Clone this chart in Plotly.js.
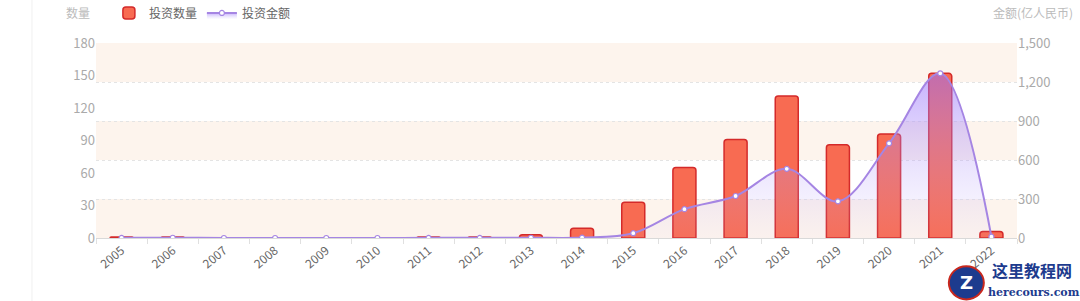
<!DOCTYPE html>
<html>
<head>
<meta charset="utf-8">
<script src="https://cdn.plot.ly/plotly-3.0.1.min.js"></script>
<style>html,body{margin:0;padding:0;background:#fff;}#chart{width:1080px;height:301px;}</style>
</head>
<body>
<div id="chart"></div>
<script>
const years = ['2005','2006','2007','2008','2009','2010','2011','2012','2013','2014','2015','2016','2017','2018','2019','2020','2021','2022'];
const investCount = [1, 1, 0, 0, 0, 0, 1, 1, 3, 9, 33, 65, 91, 131, 86, 96, 152, 6];
const investAmount = [1, 2, 0, 0, 0, 0, 1, 1, 2, 3, 37, 222, 323, 532, 282, 728, 1267, 10];
const leftTicks = [0, 30, 60, 90, 120, 150, 180];
const rightTicks = [0, 300, 600, 900, 1200, 1500];
const shadedBands = [[0, 300], [600, 900], [1200, 1500]];

const FONT = '"Noto Sans CJK SC", "Noto Sans", sans-serif';

const traces = [
  {
    type: 'bar', name: '投资数量', x: years, y: investCount, yaxis: 'y',
    width: 0.45,
    marker: {color: '#f86b52', line: {color: '#d42a2a', width: 1.5}, cornerradius: 3},
    hoverinfo: 'x+y'
  },
  {
    type: 'scatter', mode: 'lines+markers', name: '投资金额', x: years, y: investAmount, yaxis: 'y2',
    line: {color: '#a585e3', width: 2, shape: 'spline', smoothing: 1},
    marker: {symbol: 'circle', size: 5, color: '#ffffff', line: {color: '#a585e3', width: 1.2}},
    fill: 'tozeroy',
    fillgradient: {type: 'vertical', colorscale: [[0, 'rgba(200,185,250,0.05)'], [1, 'rgba(150,110,250,0.55)']]}
  }
];

const shapes = shadedBands.map(b => ({
  type: 'rect', xref: 'paper', yref: 'y2', x0: 0, x1: 1, y0: b[0], y1: b[1],
  fillcolor: '#fdf4ed', line: {width: 0}, layer: 'below'
}));
shapes.push({type: 'line', xref: 'paper', yref: 'paper', x0: -0.0695, x1: -0.0695, y0: -0.33, y1: 1.23, line: {color: '#f0f0f0', width: 1}});
shapes.push({type: 'circle', xref: 'paper', yref: 'paper', x0: 0.926, x1: 0.964, y0: -0.315, y1: -0.145, fillcolor: '#1d3b8e', line: {color: '#c8281e', width: 2}});

const layout = {
  width: 1080, height: 301,
  margin: {l: 96, r: 63, t: 43, b: 63, autoexpand: false},
  paper_bgcolor: '#ffffff', plot_bgcolor: 'rgba(0,0,0,0)',
  font: {family: FONT, size: 12, color: '#666'},
  showlegend: true,
  legend: {orientation: 'h', x: 0.014, xanchor: 'left', y: 1.154, yanchor: 'middle',
           font: {size: 12, color: '#666'}, bgcolor: 'rgba(0,0,0,0)', itemclick: false},
  bargap: 0.55,
  xaxis: {
    type: 'category', tickangle: -40, tickfont: {size: 12, color: '#666'},
    showline: true, linecolor: '#d9d9d9', linewidth: 1,
    ticks: 'outside', tickson: 'boundaries', ticklen: 5, tickcolor: '#e0e0e0',
    showgrid: false, zeroline: false, fixedrange: true
  },
  yaxis: {
    range: [0, 180], tickvals: leftTicks, showgrid: false, zeroline: false,
    tickfont: {size: 13, color: '#aaa'}, ticks: '', showline: false, fixedrange: true
  },
  yaxis2: {
    range: [0, 1500], tickvals: rightTicks, tickformat: ',d', overlaying: 'y', side: 'right',
    showgrid: true, gridcolor: '#e4e4e4', griddash: 'dot', gridwidth: 1, zeroline: false,
    tickfont: {size: 13, color: '#aaa'}, showline: false, fixedrange: true
  },
  shapes: shapes,
  annotations: [
    {text: '数量', xref: 'paper', yref: 'paper', x: -0.0195, y: 1.154, xanchor: 'center', yanchor: 'middle', showarrow: false, font: {size: 12, color: '#bbb'}},
    {text: '金额(亿人民币)', xref: 'paper', yref: 'paper', x: 1.0174, y: 1.154, xanchor: 'center', yanchor: 'middle', showarrow: false, font: {size: 12, color: '#bbb'}},
    {text: '<b>这里教程网</b>', xref: 'paper', yref: 'paper', x: 1.016, y: -0.164, xanchor: 'center', yanchor: 'middle', showarrow: false, font: {size: 16, color: '#1d3b8e', family: '"Noto Sans CJK SC", sans-serif'}},
    {text: '<b>herecours.com</b>', xref: 'paper', yref: 'paper', x: 1.018, y: -0.277, xanchor: 'center', yanchor: 'middle', showarrow: false, font: {size: 11, color: '#1d3b8e', family: '"DejaVu Serif", serif'}},
    {text: '<b>Z</b>', xref: 'paper', yref: 'paper', x: 0.945, y: -0.23, xanchor: 'center', yanchor: 'middle', showarrow: false, font: {size: 18, color: '#ffffff', family: 'DejaVu Sans'}}
  ]
};

Plotly.newPlot('chart', traces, layout, {displayModeBar: false, staticPlot: true});
</script>
</body>
</html>
